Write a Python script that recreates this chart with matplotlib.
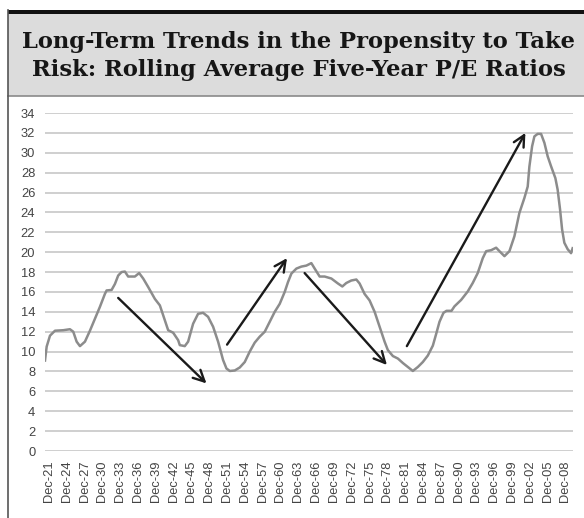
import matplotlib
matplotlib.use('Agg')
import matplotlib.pyplot as plt
from matplotlib.patches import Rectangle
from matplotlib.lines import Line2D

# rolling average five-year P/E (year as float)
years = [1921.25, 1921.53, 1922.09, 1922.93, 1924.33, 1925.45, 1926.01, 1926.58, 1927.14, 1927.98,
         1928.82, 1929.66, 1930.50, 1931.34, 1931.63, 1932.47, 1933.03, 1933.58, 1934.15, 1934.71,
         1935.26, 1936.39, 1937.11, 1937.79, 1938.63, 1939.76, 1940.60, 1941.44, 1942.00, 1942.84,
         1943.68, 1943.96, 1944.80, 1945.36, 1946.20, 1947.04, 1947.88, 1948.72, 1949.57, 1950.41,
         1951.25, 1951.82, 1952.38, 1953.22, 1954.06, 1954.90, 1955.74, 1956.58, 1957.42, 1958.27,
         1959.11, 1959.95, 1960.79, 1961.63, 1962.19, 1962.76, 1963.60, 1964.44, 1965.28, 1966.12,
         1966.68, 1967.52, 1968.36, 1969.49, 1970.60, 1971.34, 1972.01, 1972.85, 1973.70, 1974.25,
         1975.09, 1975.93, 1976.78, 1977.62, 1978.46, 1979.01, 1979.86, 1980.70, 1981.54, 1982.38,
         1983.22, 1984.06, 1984.90, 1985.74, 1986.59, 1987.16, 1987.71, 1988.38, 1988.89, 1989.73,
         1990.23, 1991.36, 1992.47, 1993.31, 1994.15, 1995.00, 1995.57, 1996.41, 1997.25, 1997.81,
         1998.65, 1999.49, 2000.33, 2001.17, 2002.01, 2002.57, 2002.85, 2003.31, 2003.70, 2004.25,
         2004.82, 2005.38, 2005.93, 2006.50, 2007.23, 2007.61, 2008.02, 2008.36, 2008.74, 2009.30,
         2009.87, 2010.14]
pe = [9.1, 10.5, 11.6, 12.1, 12.15, 12.25, 12.0, 11.0, 10.55, 11.0,
      12.1, 13.3, 14.5, 15.8, 16.15, 16.2, 16.8, 17.65, 18.0, 18.05,
      17.55, 17.55, 17.9, 17.35, 16.5, 15.3, 14.65, 13.15, 12.15, 11.9,
      11.15, 10.65, 10.55, 11.0, 12.8, 13.8, 13.9, 13.5, 12.5, 11.0,
      9.15, 8.3, 8.05, 8.1, 8.4, 8.95, 10.0, 10.9, 11.5, 12.0,
      13.0, 14.0, 14.8, 16.0, 17.0, 17.85, 18.35, 18.55, 18.65, 18.9,
      18.35, 17.55, 17.55, 17.35, 16.85, 16.55, 16.9, 17.15, 17.25, 16.85,
      15.8, 15.15, 14.0, 12.5, 11.0, 10.15, 9.55, 9.3, 8.85, 8.45,
      8.05, 8.45, 8.95, 9.6, 10.6, 11.8, 13.0, 13.9, 14.1, 14.1,
      14.55, 15.2, 16.05, 16.9, 17.9, 19.4, 20.1, 20.2, 20.45, 20.1,
      19.6, 20.1, 21.6, 23.95, 25.45, 26.6, 28.6, 30.65, 31.65, 31.9,
      31.9, 31.0, 29.65, 28.65, 27.45, 26.3, 24.3, 22.3, 20.95, 20.3,
      19.9, 20.4]

# trend arrows: (start year, start value, end year, end value)
arrows = [(1933.58, 15.4, 1948.45, 6.8),
          (1951.92, 10.7, 1962.02, 19.4),
          (1964.99, 17.9, 1978.85, 8.65),
          (1982.21, 10.55, 2002.18, 32.0)]

tick_labels = ['Dec-%02d' % (y % 100) for y in range(1921, 2009, 3)]
tick_pos = [1921.92 + 3 * i for i in range(len(tick_labels))]

fig = plt.figure(figsize=(5.84, 5.18), dpi=100)
W, H = 584, 518

def fx(x):
    return x / W

def fy(y):
    return 1 - y / H

# title box, top bar and left frame
fig.add_artist(Rectangle((fx(8), fy(96)), fx(584) - fx(8), fy(14) - fy(96),
                         transform=fig.transFigure, facecolor='#dcdcdc', edgecolor='none'))
fig.add_artist(Rectangle((fx(8), fy(14)), fx(584) - fx(8), fy(10) - fy(14),
                         transform=fig.transFigure, facecolor='#111111', edgecolor='none'))
fig.add_artist(Line2D([fx(8), fx(584)], [fy(96), fy(96)], transform=fig.transFigure,
                      color='#8a8a8a', lw=1.2))
fig.add_artist(Line2D([fx(8), fx(8)], [fy(10), fy(518)], transform=fig.transFigure,
                      color='#555555', lw=1.2))

fig.text(fx(298), fy(42), 'Long-Term Trends in the Propensity to Take', ha='center', va='center',
         fontsize=16.3, fontweight='bold', family='DejaVu Serif', color='#161616')
fig.text(fx(299), fy(70), 'Risk: Rolling Average Five-Year P/E Ratios', ha='center', va='center',
         fontsize=16.3, fontweight='bold', family='DejaVu Serif', color='#161616')

ax = fig.add_axes([fx(45), fy(451), fx(573) - fx(45), fy(113) - fy(451)])
ax.plot(years, pe, color='#8c8c8c', lw=1.8, zorder=3)

for x0, y0, x1, y1 in arrows:
    ax.annotate('', xy=(x1, y1), xytext=(x0, y0),
                arrowprops=dict(arrowstyle='->', color='#1a1a1a', lw=1.7,
                                mutation_scale=20, shrinkA=0, shrinkB=0), zorder=4)

ax.set_xlim(1921.25, 2010.2)
ax.set_ylim(0, 34)
ax.set_yticks(range(0, 35, 2))
ax.set_xticks(tick_pos)
ax.set_xticklabels(tick_labels, rotation=90)
ax.grid(axis='y', color='#cccccc', lw=1.3)
ax.set_axisbelow(True)
for s in ax.spines.values():
    s.set_visible(False)
ax.tick_params(length=0, labelsize=9.3, labelcolor='#444444', pad=7)
for lab in ax.get_xticklabels() + ax.get_yticklabels():
    lab.set_family('Liberation Sans')

fig.savefig('out.png', dpi=100)
